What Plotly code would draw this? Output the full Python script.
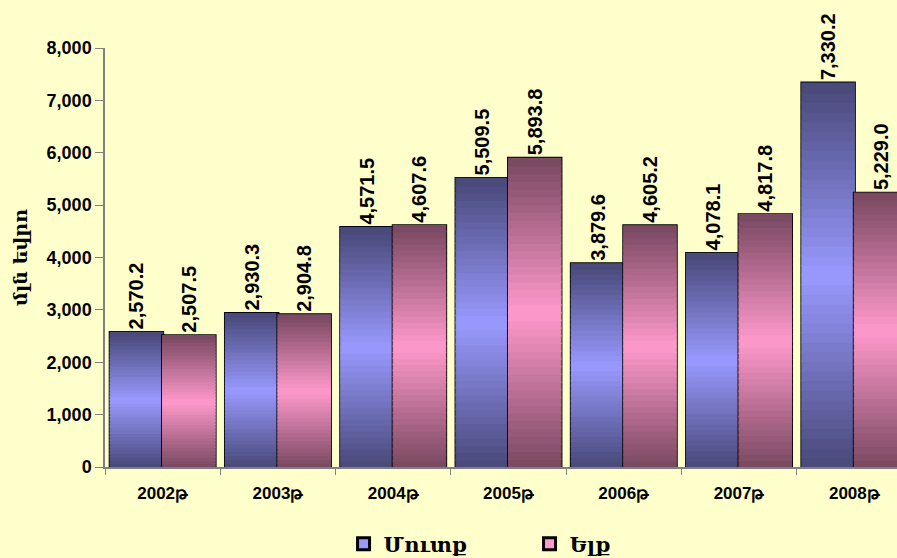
import plotly.graph_objects as go

years = ["2002թ", "2003թ", "2004թ", "2005թ", "2006թ", "2007թ", "2008թ"]
inflow = [2570.2, 2930.3, 4571.5, 5509.5, 3879.6, 4078.1, 7330.2]
outflow = [2507.5, 2904.8, 4607.6, 5893.8, 4605.2, 4817.8, 5229.0]
series_names = ["Մուտք", "Ելք"]
y_title = "մլն եվրո"

# gradient colours: (dark edge, light middle)
grad_in = ((0x48, 0x48, 0x78), (0x99, 0x99, 0xFF))
grad_out = ((0x78, 0x48, 0x60), (0xFF, 0x99, 0xCC))
N_SEG = 40

fig = go.Figure()


def mix(c0, c1, s):
    return "rgb(%d,%d,%d)" % tuple(round(a + (b - a) * s) for a, b in zip(c0, c1))


def add_series(values, name, grad, group):
    dark, light = grad
    # outline bar (underneath), carries label text and legend swatch
    fig.add_trace(go.Bar(
        x=years, y=values, name=name, offsetgroup=group,
        marker=dict(color=mix(dark, light, 1.0), line=dict(color="black", width=3)),
        texttemplate="%{y:,.1f}", textposition="outside", textangle=-90,
        textfont=dict(family="Liberation Sans", size=20, color="black", weight="bold"),
        constraintext="none", cliponaxis=False, hoverinfo="x+y+name",
    ))
    # gradient slices stacked over it
    for k in range(N_SEG):
        t = (k + 0.5) / N_SEG
        s = 1 - abs(2 * t - 1)
        c = mix(dark, light, s)
        fig.add_trace(go.Bar(
            x=years, y=[v / N_SEG for v in values], base=[v * k / N_SEG for v in values],
            offsetgroup=group, showlegend=False, hoverinfo="skip",
            marker=dict(color=c, line=dict(width=1.2, color=c)),
        ))


add_series(inflow, series_names[0], grad_in, "a")
add_series(outflow, series_names[1], grad_out, "b")

bg = "#FFFFCC"
fig.update_layout(
    width=897, height=558,
    paper_bgcolor=bg, plot_bgcolor=bg,
    margin=dict(l=105, r=0, t=48, b=91),
    barmode="group", bargap=0.09, bargroupgap=0,
    font=dict(family="Liberation Sans", color="black"),
    showlegend=True,
    legend=dict(
        orientation="h", xref="container", yref="container",
        x=0.383, xanchor="left", y=0.025, yanchor="middle",
        entrywidth=141, entrywidthmode="pixels",
        font=dict(family="DejaVu Serif", size=21, color="black", weight="bold"),
        bgcolor="rgba(0,0,0,0)",
    ),
)
fig.update_xaxes(
    type="category", range=[-0.5, 6.37], tickson="boundaries",
    ticks="outside", ticklen=6, tickcolor="#808080",
    showline=True, linecolor="#808080", linewidth=1.5,
    tickfont=dict(family="Liberation Sans", size=17, color="black", weight="bold"),
    ticklabelstandoff=10,
    showgrid=False,
)
fig.update_yaxes(
    range=[0, 8000], dtick=1000, tickformat=",",
    ticks="outside", ticklen=8, tickcolor="#808080",
    showline=True, linecolor="#808080", linewidth=1.5,
    tickfont=dict(family="Liberation Sans", size=18, color="black", weight="bold"),
    showgrid=False, zeroline=False,
    title=dict(text=y_title, font=dict(family="DejaVu Serif", size=19, color="black", weight="bold"), standoff=14),
)

fig.write_html("out.html", post_script="document.body.style.margin='0px';",
               config={"displayModeBar": False})
